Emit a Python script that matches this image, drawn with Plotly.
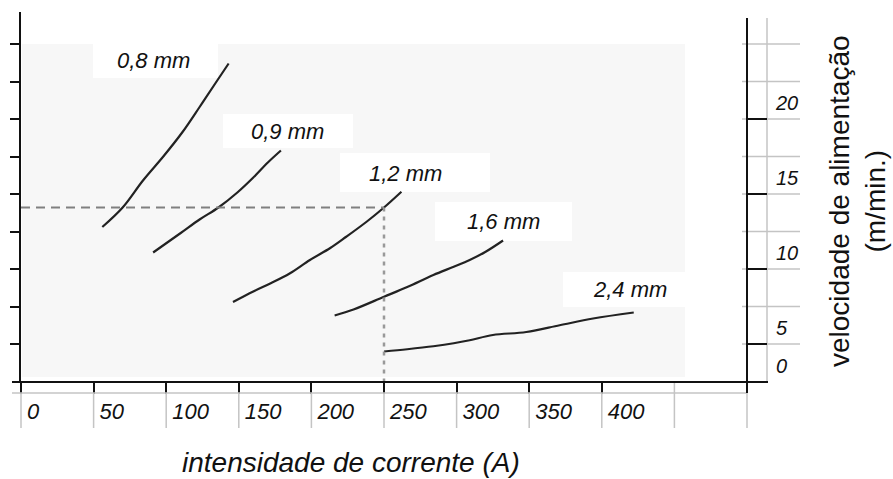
import plotly.graph_objects as go

# ---------------- data ----------------
current_ticks = [0, 50, 100, 150, 200, 250, 300, 350, 400]
current_labels = ["0", "50", "100", "150", "200", "250", "300", "350", "400"]
speed_ticks = [2.4667, 5, 10, 15, 20]
speed_labels = ["0", "5", "10", "15", "20"]
minor_speed_ticks = [5, 7.5, 10, 12.5, 15, 17.5, 20, 22.5, 25]

wire_labels = ["0,8 mm", "0,9 mm", "1,2 mm", "1,6 mm", "2,4 mm"]
w08_A = [56, 70, 84, 98, 111, 123, 134, 143]
w08_v = [12.8, 14.1, 15.9, 17.5, 19.1, 20.8, 22.4, 23.7]
w09_A = [91, 110, 123, 136, 149, 160, 170, 179]
w09_v = [11.1, 12.4, 13.3, 14.1, 15.1, 16.1, 17.1, 17.9]
w12_A = [146, 160, 172, 185, 199, 213, 224, 238, 250, 262]
w12_v = [7.8, 8.5, 9.05, 9.7, 10.6, 11.4, 12.15, 13.15, 14.1, 15.15]
w16_A = [216, 229, 250, 266, 284, 298, 309, 320, 332]
w16_v = [6.9, 7.3, 8.15, 8.8, 9.6, 10.15, 10.6, 11.15, 11.9]
w24_A = [250, 266, 284, 298, 309, 325, 348, 371, 394, 422]
w24_v = [4.5, 4.65, 4.85, 5.05, 5.25, 5.6, 5.8, 6.25, 6.7, 7.1]

guide_A = 250
guide_v = 14.1

x_title = "intensidade de corrente (A)"
y_title = "velocidade de alimentação<br>(m/min.)"

# ---------------- geometry helpers ----------------
W, H = 893, 479
PL, PR, PT, PB = 21, 747, 12, 382          # plot area in pixels
X_RANGE = [0, 500]
Y_RANGE = [2.4667, 27.1333]


def px(x):
    return (x - PL) / (PR - PL)


def py(y):
    return (PB - y) / (PB - PT)


def vy(v):
    return (v - Y_RANGE[0]) / (Y_RANGE[1] - Y_RANGE[0])


def ax(a):
    return (a - X_RANGE[0]) / (X_RANGE[1] - X_RANGE[0])


FONT = "Liberation Sans, Arial, sans-serif"
BLACK = "#111111"
GRAY = "#c4c4c4"

fig = go.Figure()

series = [(w08_A, w08_v), (w09_A, w09_v), (w12_A, w12_v), (w16_A, w16_v), (w24_A, w24_v)]
for (xa, yv), name in zip(series, wire_labels):
    fig.add_trace(go.Scatter(x=xa, y=yv, mode="lines", name=name,
                             line=dict(color="#222222", width=2.2, shape="spline"),
                             showlegend=False, hoverinfo="skip"))

# guide lines (read-off example)
fig.add_trace(go.Scatter(x=[0, guide_A], y=[guide_v, guide_v], mode="lines",
                         line=dict(color="#808080", width=2, dash="9px,6px"),
                         showlegend=False, hoverinfo="skip", yaxis="y2"))
fig.add_trace(go.Scatter(x=[guide_A, guide_A], y=[guide_v, Y_RANGE[0]], mode="lines",
                         line=dict(color="#999999", width=2.5, dash="4px,5px"),
                         showlegend=False, hoverinfo="skip", yaxis="y2"))

shapes = []
# light scanned background
shapes.append(dict(type="rect", xref="paper", yref="paper", layer="below",
                   x0=px(22), x1=px(685), y0=py(377), y1=py(44),
                   fillcolor="#f7f7f7", line=dict(width=0)))
# white label boxes
boxes = [(93, 218, 43, 78), (223, 353, 114, 148), (340, 490, 153, 192),
         (435, 572, 202, 241), (563, 685, 272, 307)]
for x0, x1, y0, y1 in boxes:
    shapes.append(dict(type="rect", xref="paper", yref="paper", layer="below",
                       x0=px(x0), x1=px(x1), y0=py(y1), y1=py(y0),
                       fillcolor="white", line=dict(width=0)))


def line(x0, y0, x1, y1, color, width=2):
    shapes.append(dict(type="line", xref="paper", yref="paper",
                       x0=x0, y0=y0, x1=x1, y1=y1,
                       line=dict(color=color, width=width)))


# right margin grid stubs
for v in minor_speed_ticks:
    line(px(742), vy(v), px(800), vy(v), GRAY, 1.5)
line(px(767), py(18), px(767), py(383), GRAY, 1.5)
# bottom table lines
line(px(12), py(393), px(747), py(393), GRAY, 1.5)
for a in current_ticks + [450, 500]:
    line(ax(a), py(393), ax(a), py(428), GRAY, 1.5)
line(ax(450), py(382), ax(450), py(393), GRAY, 1.5)
# right axis and x axis (extended)
line(ax(500), py(18), ax(500), py(393), BLACK, 2)
line(px(12), vy(Y_RANGE[0]), px(768), vy(Y_RANGE[0]), BLACK, 2)
# right major ticks
for v in speed_ticks[1:]:
    line(ax(500), vy(v), px(767), vy(v), BLACK, 2)

annotations = []
label_pos = [(153, 61), (287, 131), (405, 173), (503, 221), (630, 289)]
for txt, (cx, cy) in zip(wire_labels, label_pos):
    annotations.append(dict(text=txt, xref="paper", yref="paper", x=px(cx), y=py(cy),
                            xanchor="center", yanchor="middle", showarrow=False,
                            font=dict(family=FONT, size=22, color=BLACK, style="italic")))
annotations.append(dict(text=x_title, xref="paper", yref="paper", x=px(351), y=py(462),
                        xanchor="center", yanchor="middle", showarrow=False,
                        font=dict(family=FONT, size=28, color=BLACK, style="italic")))
annotations.append(dict(text=y_title, xref="paper", yref="paper", x=px(857), y=py(201),
                        xanchor="center", yanchor="middle", showarrow=False, textangle=-90,
                        align="center",
                        font=dict(family=FONT, size=28, color=BLACK)))

fig.update_layout(
    width=W, height=H, autosize=False,
    margin=dict(l=PL, r=W - PR, t=PT, b=H - PB, pad=0),
    paper_bgcolor="white", plot_bgcolor="rgba(0,0,0,0)",
    showlegend=False,
    shapes=shapes, annotations=annotations,
    xaxis=dict(range=X_RANGE, showgrid=False, zeroline=False, showline=False,
               tickmode="array", tickvals=current_ticks, ticktext=current_labels,
               ticks="outside", ticklen=11, tickwidth=2, tickcolor=BLACK,
               ticklabelposition="outside right", ticklabelshift=5, ticklabelstandoff=10,
               tickfont=dict(family=FONT, size=22, color=BLACK, style="italic")),
    yaxis=dict(range=Y_RANGE, showgrid=False, zeroline=False,
               showline=True, linecolor=BLACK, linewidth=2,
               tickmode="array", tickvals=minor_speed_ticks,
               ticks="outside", ticklen=9, tickwidth=2, tickcolor=BLACK,
               showticklabels=False),
    yaxis2=dict(range=Y_RANGE, overlaying="y", side="right", showgrid=False,
                zeroline=False, showline=False,
                tickmode="array", tickvals=speed_ticks, ticktext=speed_labels,
                ticks="", ticklabelshift=-16, ticklabelstandoff=28,
                tickfont=dict(family=FONT, size=20, color=BLACK, style="italic")),
)

fig.write_html("out.html")
